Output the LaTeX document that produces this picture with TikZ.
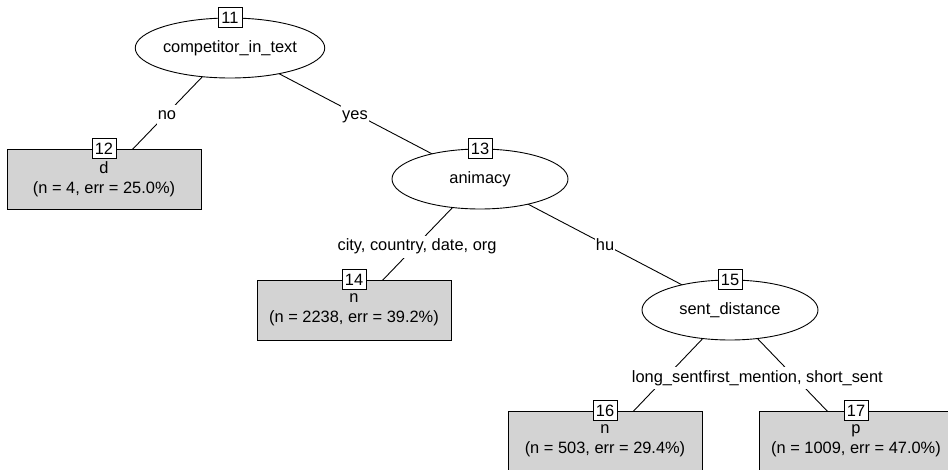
\documentclass[tikz,border=0pt]{standalone}
\usepackage{fontspec}
\setmainfont{Liberation Sans}
\usetikzlibrary{shapes.geometric,backgrounds}
\definecolor{leafgray}{RGB}{211,211,211}
\tikzset{
  every node/.style={font=\fontsize{16.4}{20}\selectfont},
  inner/.style={draw, ellipse, fill=white, line width=0.9pt, minimum width=176pt, minimum height=60pt, inner sep=0pt},
  leaf/.style={draw, rectangle, fill=leafgray, line width=0.9pt, minimum width=194pt, minimum height=60pt, inner sep=0pt, align=center},
  numbox/.style={draw, rectangle, fill=white, line width=0.9pt, minimum width=24pt, minimum height=20pt, inner sep=2pt},
  edge/.style={line width=0.9pt},
  edgelab/.style={fill=white, inner xsep=1pt, inner ysep=3pt, text height=12pt, text depth=4pt, yshift=-2.5pt}
}
\begin{document}
\begin{tikzpicture}[x=1pt,y=-1pt]
\useasboundingbox (0,0) rectangle (948,470);
% inner nodes
\node[inner] (n11) at (230,48) {competitor\_in\_text};
\node[inner] (n13) at (480,179) {animacy};
\node[inner] (n15) at (730,310) {sent\_distance};
% leaves
\node[leaf] (n12) at (104,179) {d\\(n = 4, err = 25.0\%)};
\node[leaf] (n14) at (354,310) {n\\(n = 2238, err = 39.2\%)};
\node[leaf] (n16) at (605,441) {n\\(n = 503, err = 29.4\%)};
\node[leaf] (n17) at (856,441) {p\\(n = 1009, err = 47.0\%)};
% id boxes
\node[numbox] (b11) at (n11.north) {11};
\node[numbox] (b12) at (n12.north) {12};
\node[numbox] (b13) at (n13.north) {13};
\node[numbox] (b14) at (n14.north) {14};
\node[numbox] (b15) at (n15.north) {15};
\node[numbox] (b16) at (n16.north) {16};
\node[numbox] (b17) at (n17.north) {17};
% edges
\begin{scope}[on background layer]
\fill[white] (0,0) rectangle (948,470);
\draw[edge] (n11.center) -- (n12.center) node[midway, edgelab] (e12) {no};
\draw[edge] (n11.center) -- (n13.center) node[midway, edgelab] (e13) {yes};
\draw[edge] (n13.center) -- (n14.center) node[midway, edgelab] (e14) {city, country, date, org};
\draw[edge] (n13.center) -- (n15.center) node[midway, edgelab] (e15) {hu};
\draw[edge] (n15.center) -- (n16.center) node[midway, edgelab] (e16) {long\_sent};
\draw[edge] (n15.center) -- (n17.center) node[midway, edgelab] (e17) {first\_mention, short\_sent};
\end{scope}
\end{tikzpicture}
\end{document}
